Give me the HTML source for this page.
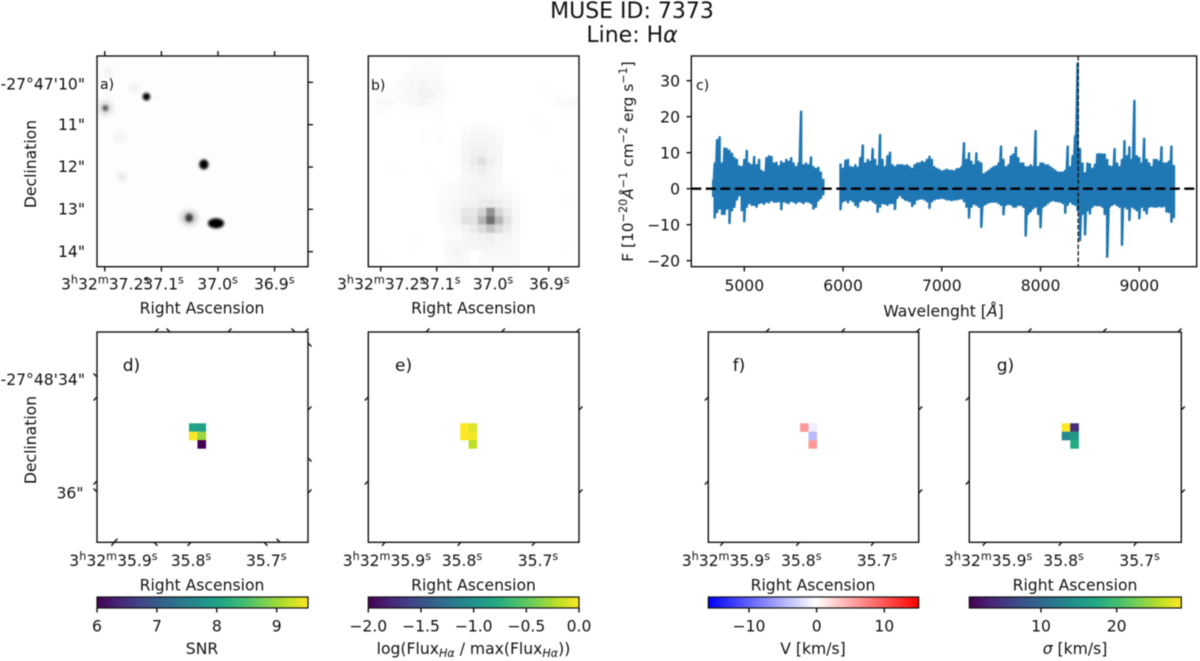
<!DOCTYPE html>
<html lang="en">
<head>
<meta charset="utf-8">
<title>MUSE ID 7373</title>
<style>
html,body{margin:0;padding:0;background:#fff;width:1200px;height:661px;overflow:hidden}
svg{display:block;filter:blur(0.5px)}
text{font-family:"DejaVu Sans","Liberation Sans",sans-serif;fill:#111;font-size:15.6px}
.frame{fill:none;stroke:#111;stroke-width:1.4}
.t{stroke:#111;stroke-width:1.4;fill:none}
.sup{font-size:11.2px}
</style>
</head>
<body>
<svg id="fig" xmlns="http://www.w3.org/2000/svg" width="1200" height="661" viewBox="0 0 1200 661">
<defs>
<linearGradient id="viridis">
<stop offset="0" stop-color="#440154"/><stop offset=".1" stop-color="#482475"/><stop offset=".2" stop-color="#414487"/><stop offset=".3" stop-color="#355f8d"/><stop offset=".4" stop-color="#2a788e"/><stop offset=".5" stop-color="#21918c"/><stop offset=".6" stop-color="#22a884"/><stop offset=".7" stop-color="#44bf70"/><stop offset=".8" stop-color="#7ad151"/><stop offset=".9" stop-color="#bddf26"/><stop offset="1" stop-color="#fde725"/>
</linearGradient>
<linearGradient id="bwr">
<stop offset="0" stop-color="#0000ff"/><stop offset=".51" stop-color="#ffffff"/><stop offset="1" stop-color="#ff0000"/>
</linearGradient>
<filter id="soft" x="-50%" y="-50%" width="200%" height="200%"><feGaussianBlur stdDeviation="0.7"/></filter>
<filter id="soft2" x="-100%" y="-100%" width="300%" height="300%"><feGaussianBlur stdDeviation="1.4"/></filter>
<filter id="soft3" x="-100%" y="-100%" width="300%" height="300%"><feGaussianBlur stdDeviation="2.6"/></filter>
<clipPath id="clip-a"><rect x="97" y="56" width="211" height="210.7"/></clipPath>
<clipPath id="clip-b"><rect x="368.3" y="56" width="210.7" height="210.7"/></clipPath>
<clipPath id="clip-c"><rect x="691.3" y="56" width="505.4" height="210.7"/></clipPath>
</defs>

<text x="632" y="18" text-anchor="middle" style="font-size:22px">MUSE ID: 7373</text>
<text x="632" y="42" text-anchor="middle" style="font-size:22px">Line: H<tspan font-style="italic">α</tspan></text>

<!-- Panel a -->
<g id="panel-a-image" clip-path="url(#clip-a)"><rect x="97" y="56" width="211" height="210.7" fill="#fdfdfd"/></g>
<g id="panel-a-ticks"></g>
<rect class="frame" x="97" y="56" width="211" height="210.7"/>
<text x="100" y="89" style="font-size:14px">a)</text>
<text x="85" y="89.3" text-anchor="end">-27°47'10"</text>
<text x="85" y="130" text-anchor="end">11"</text>
<text x="85" y="172" text-anchor="end">12"</text>
<text x="85" y="214.5" text-anchor="end">13"</text>
<text x="85" y="257" text-anchor="end">14"</text>
<text x="61" y="289.5">3<tspan class="sup" dy="-6">h</tspan><tspan dy="6">32</tspan><tspan class="sup" dy="-6">m</tspan><tspan dy="6">37.2</tspan><tspan class="sup" dy="-6">s</tspan></text>
<text x="143.3" y="289.5">37.1<tspan class="sup" dy="-6">s</tspan></text>
<text x="197.3" y="289.5">37.0<tspan class="sup" dy="-6">s</tspan></text>
<text x="254" y="289.5">36.9<tspan class="sup" dy="-6">s</tspan></text>
<text x="202" y="313.5" text-anchor="middle">Right Ascension</text>
<text transform="translate(36,164) rotate(-90)" text-anchor="middle">Declination</text>

<!-- Panel b -->
<g id="panel-b-image" clip-path="url(#clip-b)" filter="url(#soft)"></g>
<g id="panel-b-ticks"></g>
<rect class="frame" x="368.3" y="56" width="210.7" height="210.7"/>
<text x="371" y="90" style="font-size:14px">b)</text>
<text x="337" y="289.5">3<tspan class="sup" dy="-6">h</tspan><tspan dy="6">32</tspan><tspan class="sup" dy="-6">m</tspan><tspan dy="6">37.2</tspan><tspan class="sup" dy="-6">s</tspan></text>
<text x="420" y="289.5">37.1<tspan class="sup" dy="-6">s</tspan></text>
<text x="472.7" y="289.5">37.0<tspan class="sup" dy="-6">s</tspan></text>
<text x="529" y="289.5">36.9<tspan class="sup" dy="-6">s</tspan></text>
<text x="473.5" y="313.5" text-anchor="middle">Right Ascension</text>

<!-- Panel c -->
<g id="panel-c-plot" clip-path="url(#clip-c)"></g>
<g id="panel-c-ticks"></g>
<rect class="frame" x="691.3" y="56" width="505.4" height="210.7"/>
<text x="696" y="90" style="font-size:14px">c)</text>
<text x="943.5" y="316.5" text-anchor="middle">Wavelenght [<tspan font-style="italic">Å</tspan>]</text>
<text transform="translate(633,161.5) rotate(-90)" text-anchor="middle" style="font-size:15.4px">F [10<tspan class="sup" dy="-6">−20</tspan><tspan font-style="italic" dy="6">Å</tspan><tspan class="sup" dy="-6">−1</tspan><tspan dy="6"> cm</tspan><tspan class="sup" dy="-6">−2</tspan><tspan dy="6"> erg s</tspan><tspan class="sup" dy="-6">−1</tspan><tspan dy="6">]</tspan></text>

<!-- Panel d -->
<g id="panel-d-map"></g>
<rect class="frame" x="97" y="332" width="211" height="210.3"/>
<path class="t" d="M155,332l3.5,-3.5M170,332l-3.5,-3.5M228,332l3.5,-3.5M295,332l-3.5,-3.5M305,332l3.5,-3.5M114,542.3l3.5,-3.5M114,542.3l-2.5,3.5M154,542.3l3.5,3.5M191,542.3l-3.5,3.5M264,542.3l3.5,3.5M280,542.3l-3.5,-3.5M97,377l-3.5,-3.5M97,397l-3.5,3.5M97,481l-3.5,3.5M97,492l-3.5,-3.5M308,343l3.5,3.5M308,410l3.5,-3.5M308,458l3.5,3.5M308,493l3.5,-3.5"/>
<text x="122.7" y="371" style="font-size:17px">d)</text>
<text x="85" y="385" text-anchor="end">-27°48'34"</text>
<text x="83.5" y="498.3" text-anchor="end">36"</text>
<text x="69.3" y="566">3<tspan class="sup" dy="-6">h</tspan><tspan dy="6">32</tspan><tspan class="sup" dy="-6">m</tspan><tspan dy="6">35.9</tspan><tspan class="sup" dy="-6">s</tspan></text>
<text x="170.7" y="566">35.8<tspan class="sup" dy="-6">s</tspan></text>
<text x="246" y="566">35.7<tspan class="sup" dy="-6">s</tspan></text>
<text x="202" y="590.5" text-anchor="middle">Right Ascension</text>
<text transform="translate(36,440) rotate(-90)" text-anchor="middle">Declination</text>
<rect x="97" y="597" width="211" height="11" fill="url(#viridis)" stroke="#111" stroke-width="1.2"/>
<g id="cbar-d-ticks"></g>
<text x="202" y="654" text-anchor="middle">SNR</text>

<!-- Panel e -->
<g id="panel-e-map"></g>
<rect class="frame" x="368.3" y="332" width="210.7" height="210.3"/>
<path class="t" d="M426,332l3.5,-3.5M501.5,332l3.5,-3.5M576.5,332l3.5,-3.5M385,542.3l-3,3.5M460.7,542.3l-3,3.5M535,542.3l-3,3.5M368.3,397l-3.5,3.5M368.3,481l-3.5,3.5M579,410l3.5,-3.5M579,493l3.5,-3.5"/>
<text x="395" y="371" style="font-size:17px">e)</text>
<text x="342.7" y="566">3<tspan class="sup" dy="-6">h</tspan><tspan dy="6">32</tspan><tspan class="sup" dy="-6">m</tspan><tspan dy="6">35.9</tspan><tspan class="sup" dy="-6">s</tspan></text>
<text x="441.7" y="566">35.8<tspan class="sup" dy="-6">s</tspan></text>
<text x="517.7" y="566">35.7<tspan class="sup" dy="-6">s</tspan></text>
<text x="473.5" y="590.5" text-anchor="middle">Right Ascension</text>
<rect x="368.3" y="597" width="210.7" height="11" fill="url(#viridis)" stroke="#111" stroke-width="1.2"/>
<g id="cbar-e-ticks"></g>
<text x="473.5" y="654" text-anchor="middle">log(Flux<tspan class="sup" font-style="italic" dy="3">Hα</tspan><tspan dy="-3"> / max(Flux</tspan><tspan class="sup" font-style="italic" dy="3">Hα</tspan><tspan dy="-3">))</tspan></text>

<!-- Panel f -->
<g id="panel-f-map"></g>
<rect class="frame" x="708.3" y="332" width="210.4" height="210.3"/>
<path class="t" d="M766,332l3.5,-3.5M841.5,332l3.5,-3.5M916.5,332l3.5,-3.5M723.3,542.3l-3,3.5M799.3,542.3l-3,3.5M874,542.3l-3,3.5M708.3,397l-3.5,3.5M708.3,481l-3.5,3.5M918.7,410l3.5,-3.5M918.7,493l3.5,-3.5"/>
<text x="732.7" y="371" style="font-size:17px">f)</text>
<text x="681.7" y="566">3<tspan class="sup" dy="-6">h</tspan><tspan dy="6">32</tspan><tspan class="sup" dy="-6">m</tspan><tspan dy="6">35.9</tspan><tspan class="sup" dy="-6">s</tspan></text>
<text x="781" y="566">35.8<tspan class="sup" dy="-6">s</tspan></text>
<text x="856.7" y="566">35.7<tspan class="sup" dy="-6">s</tspan></text>
<text x="813" y="590.5" text-anchor="middle">Right Ascension</text>
<rect x="708.3" y="597" width="210.4" height="11" fill="url(#bwr)" stroke="#111" stroke-width="1.2"/>
<g id="cbar-f-ticks"></g>
<text x="813" y="654" text-anchor="middle">V [km/s]</text>

<!-- Panel g -->
<g id="panel-g-map"></g>
<rect class="frame" x="969.3" y="332" width="212" height="210.3"/>
<path class="t" d="M1028,332l3.5,-3.5M1103,332l3.5,-3.5M1178,332l3.5,-3.5M985.7,542.3l-3,3.5M1061.7,542.3l-3,3.5M1136.7,542.3l-3,3.5M969.3,397l-3.5,3.5M969.3,481l-3.5,3.5M1181.3,410l3.5,-3.5M1181.3,493l3.5,-3.5"/>
<text x="996.7" y="371" style="font-size:17px">g)</text>
<text x="944" y="566">3<tspan class="sup" dy="-6">h</tspan><tspan dy="6">32</tspan><tspan class="sup" dy="-6">m</tspan><tspan dy="6">35.9</tspan><tspan class="sup" dy="-6">s</tspan></text>
<text x="1043.3" y="566">35.8<tspan class="sup" dy="-6">s</tspan></text>
<text x="1119.3" y="566">35.7<tspan class="sup" dy="-6">s</tspan></text>
<text x="1075" y="590.5" text-anchor="middle">Right Ascension</text>
<rect x="969.3" y="597" width="212" height="11" fill="url(#viridis)" stroke="#111" stroke-width="1.2"/>
<g id="cbar-g-ticks"></g>
<text x="1075" y="654" text-anchor="middle"><tspan font-style="italic">σ</tspan> [km/s]</text>
</svg>

<script>
// Panel c: spectrum samples (wavelength in Angstrom, flux upper / lower excursions per bin)
const spectrumWave = [4685,
4700,4725,4750,4775,4800,4825,4850,4875,4900,4925,4950,4975,
5000,5025,5050,5075,5100,5125,5150,5175,5200,5225,5250,5275,
5300,5325,5350,5375,5400,5425,5450,5475,5500,5525,5550,5575,
5600,5625,5650,5675,5700,5725,5750,5775,5800,5825,5850,5875,
5900,5925,5950,5975,6000,6025,6050,6075,6100,6125,6150,6175,
6200,6225,6250,6275,6300,6325,6350,6375,6400,6425,6450,6475,
6500,6525,6550,6575,6600,6625,6650,6675,6700,6725,6750,6775,
6800,6825,6850,6875,6900,6925,6950,6975,7000,7025,7050,7075,
7100,7125,7150,7175,7200,7225,7250,7275,7300,7325,7350,7375,
7400,7425,7450,7475,7500,7525,7550,7575,7600,7625,7650,7675,
7700,7725,7750,7775,7800,7825,7850,7875,7900,7925,7950,7975,
8000,8025,8050,8075,8100,8125,8150,8175,8200,8225,8250,8275,
8300,8325,8350,8375,8400,8425,8450,8475,8500,8525,8550,8575,
8600,8625,8650,8675,8700,8725,8750,8775,8800,8825,8850,8875,
8900,8925,8950,8975,9000,9025,9050,9075,9100,9125,9150,9175,
9200,9225,9250,9275,9300,9325,9350];
const spectrumHigh = [2.5,
7,13.5,14.3,7,11.2,11,10.5,9.7,8.5,8,6.2,6,
8,10.5,7,6.5,8.8,6.5,8,5,4.5,8.5,9,8.8,
7,7.2,6.2,7.5,7,8,7.5,8.5,7,6,7,21.4,
6.5,7,6.5,8.7,6,5.5,5.8,4.5,2.5,null,null,null,
null,null,null,7,5.5,7.8,8,6,5.8,6.5,5.8,8.5,
12,7,8,7.5,11,8,6.2,14.9,8,6,9,10,
6.5,6,6.5,6.5,6.5,6.3,6.5,6,5.5,6.5,7,7,
7.5,7.2,8,8.9,8,6,5.5,5.2,4.8,5,5.3,5,
5,4.8,5.4,5.5,6,12.6,8,9.8,7.5,6.5,9.8,7.5,
7,4,4.5,5,5.5,6,6.2,7,11.7,8,6,6.5,
9,9.5,11.4,8.5,7,7,6,6,6.5,6,16,6,
7,7,6.5,6.5,6,5.5,5,4.5,4.5,4.5,5,11.7,
6,9,14.6,34.8,11,7,4.3,7,6.8,5.5,6.6,9.5,
9.6,9.5,9.5,8,6.2,6,11,7,6,8,13.2,9,
11.5,8,24.4,9,8.5,7,13.9,8,7,6,8,8,
7.5,11.5,7,7,7.5,11.7,6.3];
const spectrumLow = [-2,
-8,-6.5,-5.5,-7,-7,-5.5,-9.5,-6,-5,-3,-1.8,-6,
-9,-5,-4,-4.5,-4.5,-5,-4,-3.8,-4.2,-3.6,-3.8,-3.2,
-3.6,-3.6,-3.5,-5.7,-3.5,-3.8,-4,-3.4,-3.6,-4,-3.5,-3.6,
-4,-3.5,-3.6,-4,-5.5,-5,-3.2,-2.6,-1.8,null,null,null,
null,null,null,-5.7,-3.5,-3.2,-3.8,-3,-3.5,-4.5,-5,-3.5,
-3,-3.2,-3.4,-3,-3.5,-4,-6.4,-5,-4,-4.2,-4.5,-4,
-4,-5.6,-2.5,-1.8,-2.5,-3,-3.2,-3.5,-4.8,-4.2,-3,-2.8,
-2.7,-3,-3.5,-5.3,-3.5,-3,-2.7,-2.7,-2.5,-2.7,-3,-3,
-3.2,-3,-3,-2.8,-2.7,-3.5,-5,-8,-5,-4.2,-4.5,-5,
-10.6,-4.5,-4.2,-3.8,-3.6,-3.6,-3.6,-4,-4.5,-7.1,-4.5,-4.2,
-4.4,-5,-5,-4.5,-4.5,-5,-13,-7,-6.3,-5.5,-5,-7,
-10.7,-5,-4.6,-4,-3.5,-3.2,-3.4,-3.5,-3.6,-4,-6.7,-4.5,
-3.6,-4.2,-4.5,-6,-14.3,-7,-12.7,-6,-6.9,-5,-4.5,-4.6,
-4.6,-5,-7,-18.9,-5,-4.5,-4.2,-4.6,-5,-15.6,-5,-5.5,
-8.7,-5,-5.5,-6,-8.2,-5,-6,-6.9,-5,-4.8,-5,-5,
-4.8,-5,-4.8,-6.3,-6.5,-9.2,-8.2];
const lineCentre = [8381];
const cXTicks = [5000,6000,7000,8000,9000];
const cYTicks = [-20,-10,0,10,20,30];

// Panel a: HST sources (RA seconds, Dec arcsec offset, widths in arcsec, peak opacity)
const sourceRa    = [37.1265,37.199,37.025,37.051,37.0035,37.170,37.194,37.147,37.173,37.051,37.199];
const sourceDec   = [10.34,10.61,11.94,13.20,13.33,12.23,9.76,10.14,11.28,13.20,10.61];
const sourceWidth = [0.09,0.07,0.11,0.09,0.19,0.10,0.10,0.13,0.14,0.2,0.18];
const sourceHeight= [0.09,0.07,0.12,0.10,0.12,0.10,0.10,0.11,0.14,0.18,0.18];
const sourcePeak  = [1,0.6,1,0.7,1,0.1,0.05,0.05,0.04,0.2,0.12];
const aRaTicks = [37.2,37.1,37.0,36.9];
const aDecTicks = [10,11,12,13,14];
const bRaTicks = [37.2,37.1,37.0,36.9];

// Panel b: MUSE narrow-band image, darkness percent per spaxel (25 x 25)
const museImage = [
[0,0,0,0,0,1,2,2,1,0,0,0,0,0,0,0,0,0,0,0,0,0,0,0,0],
[0,0,0,0,0,2,2,2,2,0,0,0,0,0,0,0,0,0,0,0,0,0,0,0,0],
[0,0,0,0,2,3,3,3,2,0,0,0,0,0,0,0,0,0,0,0,0,0,0,0,0],
[0,0,0,2,3,4,5,4,3,1,0,0,0,0,0,0,0,0,0,0,1,0,0,0,0],
[0,1,1,2,3,4,7,6,3,1,0,0,0,0,0,0,0,0,0,0,0,1,1,0,0],
[0,3,3,1,2,3,5,3,2,0,0,0,0,0,0,0,0,0,0,0,0,0,2,3,3],
[0,2,1,0,1,1,1,1,2,0,0,0,0,0,0,0,0,0,0,0,0,0,0,1,1],
[0,0,0,0,0,0,0,0,1,0,0,0,0,0,0,0,0,0,0,1,1,0,0,0,0],
[0,0,0,0,0,0,0,0,1,0,0,1,2,2,2,1,0,0,0,0,1,1,0,0,0],
[0,0,0,0,0,0,1,0,1,0,0,3,4,4,4,2,0,0,0,0,0,0,0,0,0],
[0,0,0,0,0,0,0,0,0,0,1,4,6,6,5,3,0,0,0,0,0,0,0,0,0],
[0,0,0,0,0,0,0,0,0,0,1,5,7,8,6,4,0,0,0,0,0,0,0,0,0],
[0,0,0,0,0,0,0,0,0,0,1,5,10,16,8,4,0,0,0,0,0,0,0,0,0],
[0,0,1,1,0,0,0,1,0,0,1,4,7,9,6,3,0,0,0,0,0,0,1,0,0],
[0,0,0,0,0,0,0,0,1,0,1,3,4,6,5,3,0,0,0,0,0,0,0,0,0],
[0,0,0,0,0,0,0,0,1,2,3,4,5,5,4,3,1,1,0,0,0,0,0,0,0],
[0,0,0,0,0,0,0,0,1,2,3,4,6,7,6,4,3,2,1,0,0,0,0,1,0],
[0,0,0,0,0,0,0,0,2,3,4,6,7,10,11,9,5,3,1,0,0,0,0,1,0],
[0,0,0,0,0,0,0,0,2,3,5,12,12,22,58,22,10,4,1,0,0,0,0,0,0],
[0,0,0,0,0,0,0,0,2,3,5,15,15,38,75,38,15,4,1,0,0,0,0,0,0],
[0,0,0,0,0,0,0,0,0,2,3,6,10,18,30,18,10,3,1,0,0,0,0,0,0],
[0,0,0,0,0,1,0,0,0,1,2,4,5,7,8,6,5,2,0,0,0,0,0,0,0],
[0,0,0,0,0,1,0,0,0,3,4,5,5,5,5,4,4,3,0,0,0,0,0,1,0],
[0,1,0,0,0,0,0,0,0,3,4,3,0,2,4,4,4,3,0,0,0,0,0,0,0],
[0,1,0,0,0,0,0,0,0,2,3,2,0,2,3,3,3,2,0,0,0,0,0,0,0]
];

// Panels d-g: spaxel maps (column, row, value)
const mapCols = [10.9,11.9,10.9,11.9,11.9];
const mapRows = [10.85,10.85,11.85,11.85,12.85];
const snrCols = [10.9,11.9,10.9,11.9,11.9];
const snrRows = [10.85,10.85,11.85,11.85,12.85];
const snrValues = [8.0,8.0,9.5,9.0,6.0];
const fluxCols = [10.9,11.9,10.9,11.9,11.9];
const fluxRows = [10.85,10.85,11.85,11.85,12.85];
const fluxValues = [0,-0.1,0,-0.03,-0.2];
const velCols = [10.9,11.9,11.9,11.9];
const velRows = [10.85,10.85,11.85,12.85];
const velValues = [6,-1,-4,6];
const sigmaValues = [28.5,4,13.5,15.5,17.5];

// Colorbar ticks
const snrTicks = [6,7,8,9];
const fluxTicks = [-2,-1.5,-1,-0.5,0];
const velTicks = [-10,0,10];
const sigmaTicks = [10,20];

const NS = 'http://www.w3.org/2000/svg';
function mk(parent, tag, attrs) {
  const el = document.createElementNS(NS, tag);
  for (const k in attrs) el.setAttribute(k, attrs[k]);
  document.getElementById(parent).appendChild(el);
  return el;
}
function linear(d0, d1, r0, r1) { return v => r0 + (v - d0) * (r1 - r0) / (d1 - d0); }

const viridisStops = ['#440154','#482475','#414487','#355f8d','#2a788e','#21918c','#22a884','#44bf70','#7ad151','#bddf26','#fde725'];
function hexRgb(h) { return [1,3,5].map(i => parseInt(h.substr(i, 2), 16)); }
function viridis(t) {
  t = Math.max(0, Math.min(1, t));
  const p = t * 10, i = Math.min(9, Math.floor(p)), f = p - i;
  const a = hexRgb(viridisStops[i]), b = hexRgb(viridisStops[i + 1]);
  return 'rgb(' + a.map((c, k) => Math.round(c + (b[k] - c) * f)).join(',') + ')';
}
function bwr(v, lim) {
  const t = Math.max(-1, Math.min(1, v / lim));
  const g = Math.round(255 * (1 - Math.abs(t)));
  return t < 0 ? 'rgb(' + g + ',' + g + ',255)' : 'rgb(255,' + g + ',' + g + ')';
}
function fmt(v) { return String(v).replace('-', '\u2212'); }

// Panel a
const aX = linear(37.0, 37.1, 218, 161.4);
const aY = linear(10, 14, 82.3, 251.7);
const aScaleY = 42.35;
sourceRa.forEach((ra, i) => {
  const blob = mk('panel-a-image', 'ellipse', {
    cx: aX(ra), cy: aY(sourceDec[i]),
    rx: sourceWidth[i] * aScaleY, ry: sourceHeight[i] * aScaleY,
    fill: '#000', opacity: sourcePeak[i], filter: sourcePeak[i] < 0.3 ? 'url(#soft3)' : 'url(#soft2)'
  });
  
  
});
aRaTicks.forEach(v => {
  const bottom = mk('panel-a-ticks', 'line', { class: 't', x1: aX(v), x2: aX(v), y1: 266.7, y2: 271.5 });
  
  
  const top = mk('panel-a-ticks', 'line', { class: 't', x1: aX(v), x2: aX(v), y1: 56, y2: 51 });
  
  
});
aDecTicks.forEach(v => {
  const right = mk('panel-a-ticks', 'line', { class: 't', x1: 308, x2: 313, y1: aY(v), y2: aY(v) });
  
  
});

// Panel b
const bCol = linear(0, 25, 368.3, 579);
const bRow = linear(0, 25, 56, 266.7);
const bGain = 0.75;
museImage.forEach((row, r) => row.forEach((dark, c) => {
  const shade = Math.round(255 * (1 - bGain * dark / 100));
  const cell = mk('panel-b-image', 'rect', {
    x: bCol(c), y: bRow(r), width: bCol(1) - bCol(0) + 0.3, height: bRow(1) - bRow(0) + 0.3,
    fill: 'rgb(' + shade + ',' + shade + ',' + shade + ')'
  });
  
  
}));
const bX = linear(37.0, 37.1, 492.7, 436.7);
bRaTicks.forEach(v => {
  const tick = mk('panel-b-ticks', 'line', { class: 't', x1: bX(v), x2: bX(v), y1: 266.7, y2: 271.5 });
  
  
});

// Panel c
const cX = linear(5000, 9000, 744.3, 1139.3);
const cY = linear(0, 30, 188.7, 80.7);
let d = '', pen = false;
spectrumWave.forEach((w, i) => {
  if (spectrumHigh[i] === null) { pen = false; return; }
  d += (pen ? 'L' : 'M') + cX(w).toFixed(1) + ',' + cY(spectrumHigh[i]).toFixed(1);
  d += 'L' + cX(w).toFixed(1) + ',' + cY(spectrumLow[i]).toFixed(1);
  pen = true;
});
const specLine = mk('panel-c-plot', 'path', { d: d, fill: 'none', stroke: '#1f77b4', 'stroke-width': 2.5, 'stroke-linejoin': 'round' });


const zeroLine = mk('panel-c-plot', 'line', { x1: 691.3, x2: 1196.7, y1: cY(0), y2: cY(0), stroke: '#000', 'stroke-width': 2.3, 'stroke-dasharray': '10,4.5' });


lineCentre.forEach(w => {
  const vLine = mk('panel-c-plot', 'line', { x1: cX(w), x2: cX(w), y1: 56, y2: 266.7, stroke: '#111', 'stroke-width': 1.3, 'stroke-dasharray': '4.5,2' });
  
  
});
cXTicks.forEach(v => {
  const tick = mk('panel-c-ticks', 'line', { class: 't', x1: cX(v), x2: cX(v), y1: 266.7, y2: 271.5 });
  
  
  const label = mk('panel-c-ticks', 'text', { x: cX(v), y: 291, 'text-anchor': 'middle' });
  
  
  label.textContent = v;
});
cYTicks.forEach(v => {
  const tick = mk('panel-c-ticks', 'line', { class: 't', x1: 691.3, x2: 686.5, y1: cY(v), y2: cY(v) });
  
  
  const label = mk('panel-c-ticks', 'text', { x: 680, y: cY(v) + 5.6, 'text-anchor': 'end' });
  
  
  label.textContent = fmt(v);
});

// Spaxel maps
function drawMap(target, left, width, cols, rows, values, colorFn) {
  const x = linear(0, 25, left, left + width);
  const y = linear(0, 25, 332, 542.3);
  values.forEach((v, i) => {
    const cell = mk(target, 'rect', {
      x: x(cols[i]), y: y(rows[i]), width: x(1) - x(0) + 0.2, height: y(1) - y(0) + 0.2, fill: colorFn(v)
    });
    
    
  });
}
const snrScale = linear(6, 9.52, 0, 1);
const fluxScale = linear(-2, 0, 0, 1);
const sigmaScale = linear(0.53, 28.5, 0, 1);
drawMap('panel-d-map', 97, 211, snrCols, snrRows, snrValues, v => viridis(snrScale(v)));
drawMap('panel-e-map', 368.3, 210.7, fluxCols, fluxRows, fluxValues, v => viridis(fluxScale(v)));
drawMap('panel-f-map', 708.3, 210.4, velCols, velRows, velValues, v => bwr(v, 15));
drawMap('panel-g-map', 969.3, 212, mapCols, mapRows, sigmaValues, v => viridis(sigmaScale(v)));

// Colorbars
function drawColorbarTicks(target, ticks, scale, labelFn) {
  ticks.forEach(v => {
    const tick = mk(target, 'line', { class: 't', x1: scale(v), x2: scale(v), y1: 608, y2: 612.5 });
    
    
    const label = mk(target, 'text', { x: scale(v), y: 631.7, 'text-anchor': 'middle' });
    
    
    label.textContent = labelFn(v);
  });
}
drawColorbarTicks('cbar-d-ticks', snrTicks, linear(6, 9, 97, 276.7), v => v);
drawColorbarTicks('cbar-e-ticks', fluxTicks, linear(-2, 0, 368.3, 579), v => fmt(v.toFixed(1)));
drawColorbarTicks('cbar-f-ticks', velTicks, linear(-10, 10, 749, 884.3), v => fmt(v));
drawColorbarTicks('cbar-g-ticks', sigmaTicks, linear(10, 20, 1041, 1116.7), v => v);
</script>
</body>
</html>
